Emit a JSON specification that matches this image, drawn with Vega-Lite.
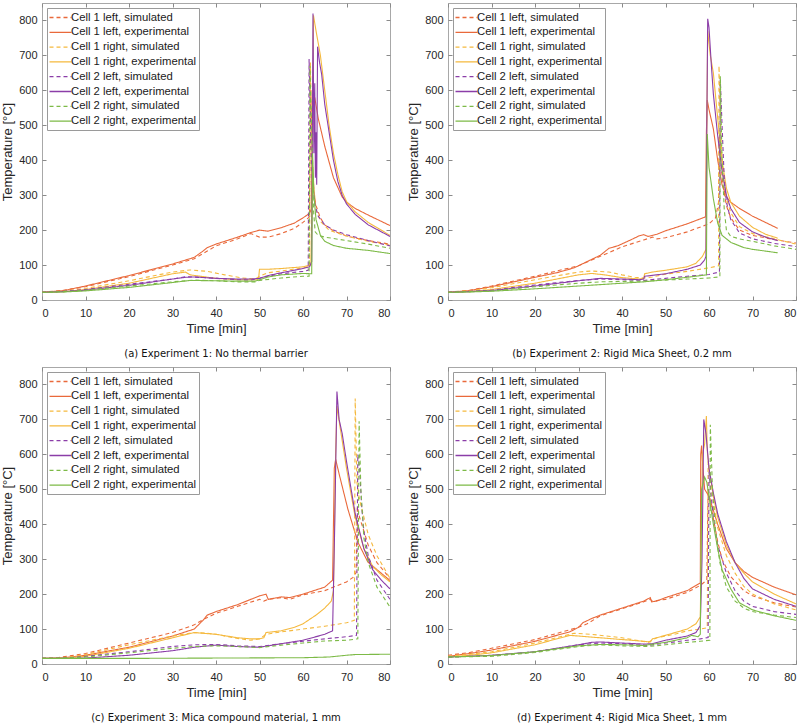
{
"$schema":"https://vega.github.io/schema/vega-lite/v6.json",
"background":"white",
"padding":{"left":1,"top":2,"right":6,"bottom":2},
"config":{
 "font":"Liberation Sans",
 "view":{"stroke":"#a8a8a8","strokeWidth":1},
 "axis":{"grid":false,"domain":false,"tickColor":"#8a8a8a","tickSize":-4,"labelFontSize":11,"labelColor":"#262626","labelPadding":9,"titleFontSize":13,"titleFontWeight":"normal","titleColor":"#262626","labelFont":"Liberation Sans","titleFont":"Liberation Sans"},
 "axisX":{"labelPadding":11},
 "legend":{"orient":"top-left","offset":5,"fillColor":"white","strokeColor":"#9a9a9a","padding":3,"labelFontSize":11.3,"labelColor":"#1a1a1a","labelFont":"Liberation Sans","symbolType":"M-2,0H2","symbolSize":121,"symbolOffset":4,"symbolStrokeWidth":1.3,"rowPadding":2.8,"labelOffset":4,"labelLimit":300,"title":null},
 "title":{"font":"DejaVu Sans","fontSize":10,"fontWeight":"normal","color":"#111111","orient":"bottom","anchor":"middle","offset":14}
},
"columns":2,
"spacing":{"row":6,"column":13},
"resolve":{"scale":{"color":"independent","strokeDash":"independent"},"legend":{"color":"independent","strokeDash":"independent"}},
"data":{"values":[
{"p":"a","s":1,"t":0,"T":22},{"p":"a","s":1,"t":5,"T":28},{"p":"a","s":1,"t":10,"T":38},{"p":"a","s":1,"t":20,"T":67},{"p":"a","s":1,"t":30,"T":100},{"p":"a","s":1,"t":35,"T":118},{"p":"a","s":1,"t":38,"T":140},{"p":"a","s":1,"t":40,"T":155},{"p":"a","s":1,"t":45,"T":175},{"p":"a","s":1,"t":48,"T":190},{"p":"a","s":1,"t":49,"T":185},{"p":"a","s":1,"t":50,"T":180},{"p":"a","s":1,"t":52,"T":180},{"p":"a","s":1,"t":55,"T":190},{"p":"a","s":1,"t":58,"T":205},{"p":"a","s":1,"t":60,"T":222},{"p":"a","s":1,"t":61.5,"T":238},{"p":"a","s":1,"t":61.8,"T":600},{"p":"a","s":1,"t":62.2,"T":380},{"p":"a","s":1,"t":62.6,"T":300},{"p":"a","s":1,"t":63,"T":270},{"p":"a","s":1,"t":64,"T":235},{"p":"a","s":1,"t":65,"T":215},{"p":"a","s":1,"t":67,"T":198},{"p":"a","s":1,"t":70,"T":183},{"p":"a","s":1,"t":75,"T":170},{"p":"a","s":1,"t":80,"T":160},
{"p":"a","s":2,"t":0,"T":22},{"p":"a","s":2,"t":5,"T":27},{"p":"a","s":2,"t":10,"T":40},{"p":"a","s":2,"t":20,"T":70},{"p":"a","s":2,"t":30,"T":103},{"p":"a","s":2,"t":35,"T":122},{"p":"a","s":2,"t":37,"T":140},{"p":"a","s":2,"t":38,"T":150},{"p":"a","s":2,"t":40,"T":160},{"p":"a","s":2,"t":45,"T":180},{"p":"a","s":2,"t":48,"T":193},{"p":"a","s":2,"t":50,"T":200},{"p":"a","s":2,"t":52,"T":197},{"p":"a","s":2,"t":55,"T":207},{"p":"a","s":2,"t":58,"T":220},{"p":"a","s":2,"t":60,"T":235},{"p":"a","s":2,"t":61.5,"T":248},{"p":"a","s":2,"t":61.9,"T":260},{"p":"a","s":2,"t":62.3,"T":560},{"p":"a","s":2,"t":62.7,"T":580},{"p":"a","s":2,"t":63.5,"T":520},{"p":"a","s":2,"t":65,"T":440},{"p":"a","s":2,"t":67,"T":350},{"p":"a","s":2,"t":69,"T":295},{"p":"a","s":2,"t":70,"T":280},{"p":"a","s":2,"t":72,"T":262},{"p":"a","s":2,"t":75,"T":243},{"p":"a","s":2,"t":80,"T":213},
{"p":"a","s":3,"t":0,"T":22},{"p":"a","s":3,"t":5,"T":25},{"p":"a","s":3,"t":10,"T":33},{"p":"a","s":3,"t":20,"T":55},{"p":"a","s":3,"t":30,"T":80},{"p":"a","s":3,"t":34,"T":86},{"p":"a","s":3,"t":38,"T":82},{"p":"a","s":3,"t":42,"T":72},{"p":"a","s":3,"t":46,"T":63},{"p":"a","s":3,"t":49,"T":60},{"p":"a","s":3,"t":50,"T":68},{"p":"a","s":3,"t":52,"T":78},{"p":"a","s":3,"t":55,"T":83},{"p":"a","s":3,"t":60,"T":92},{"p":"a","s":3,"t":61.5,"T":95},{"p":"a","s":3,"t":61.7,"T":680},{"p":"a","s":3,"t":62,"T":450},{"p":"a","s":3,"t":62.5,"T":320},{"p":"a","s":3,"t":63,"T":260},{"p":"a","s":3,"t":64,"T":225},{"p":"a","s":3,"t":66,"T":200},{"p":"a","s":3,"t":70,"T":183},{"p":"a","s":3,"t":75,"T":168},{"p":"a","s":3,"t":80,"T":157},
{"p":"a","s":4,"t":0,"T":22},{"p":"a","s":4,"t":5,"T":24},{"p":"a","s":4,"t":10,"T":30},{"p":"a","s":4,"t":20,"T":48},{"p":"a","s":4,"t":30,"T":75},{"p":"a","s":4,"t":33,"T":80},{"p":"a","s":4,"t":34,"T":72},{"p":"a","s":4,"t":40,"T":62},{"p":"a","s":4,"t":45,"T":58},{"p":"a","s":4,"t":49.5,"T":58},{"p":"a","s":4,"t":49.8,"T":62},{"p":"a","s":4,"t":50,"T":88},{"p":"a","s":4,"t":52,"T":88},{"p":"a","s":4,"t":55,"T":90},{"p":"a","s":4,"t":60,"T":95},{"p":"a","s":4,"t":61.8,"T":100},{"p":"a","s":4,"t":62.1,"T":300},{"p":"a","s":4,"t":62.4,"T":815},{"p":"a","s":4,"t":63,"T":770},{"p":"a","s":4,"t":64,"T":700},{"p":"a","s":4,"t":65,"T":600},{"p":"a","s":4,"t":66,"T":500},{"p":"a","s":4,"t":67,"T":420},{"p":"a","s":4,"t":68,"T":360},{"p":"a","s":4,"t":69,"T":310},{"p":"a","s":4,"t":70,"T":282},{"p":"a","s":4,"t":72,"T":252},{"p":"a","s":4,"t":75,"T":222},{"p":"a","s":4,"t":80,"T":185},
{"p":"a","s":5,"t":0,"T":22},{"p":"a","s":5,"t":5,"T":25},{"p":"a","s":5,"t":10,"T":30},{"p":"a","s":5,"t":20,"T":45},{"p":"a","s":5,"t":30,"T":60},{"p":"a","s":5,"t":33,"T":67},{"p":"a","s":5,"t":40,"T":62},{"p":"a","s":5,"t":45,"T":58},{"p":"a","s":5,"t":48,"T":57},{"p":"a","s":5,"t":50,"T":62},{"p":"a","s":5,"t":52,"T":68},{"p":"a","s":5,"t":55,"T":75},{"p":"a","s":5,"t":60,"T":82},{"p":"a","s":5,"t":61.2,"T":85},{"p":"a","s":5,"t":61.4,"T":690},{"p":"a","s":5,"t":61.8,"T":450},{"p":"a","s":5,"t":62.2,"T":330},{"p":"a","s":5,"t":62.8,"T":270},{"p":"a","s":5,"t":63.5,"T":240},{"p":"a","s":5,"t":65,"T":215},{"p":"a","s":5,"t":67,"T":200},{"p":"a","s":5,"t":70,"T":187},{"p":"a","s":5,"t":75,"T":170},{"p":"a","s":5,"t":80,"T":155},
{"p":"a","s":6,"t":0,"T":22},{"p":"a","s":6,"t":5,"T":24},{"p":"a","s":6,"t":10,"T":28},{"p":"a","s":6,"t":20,"T":42},{"p":"a","s":6,"t":30,"T":60},{"p":"a","s":6,"t":33,"T":65},{"p":"a","s":6,"t":35,"T":66},{"p":"a","s":6,"t":40,"T":62},{"p":"a","s":6,"t":45,"T":60},{"p":"a","s":6,"t":48,"T":60},{"p":"a","s":6,"t":50,"T":62},{"p":"a","s":6,"t":52,"T":70},{"p":"a","s":6,"t":55,"T":78},{"p":"a","s":6,"t":60,"T":90},{"p":"a","s":6,"t":61.5,"T":95},{"p":"a","s":6,"t":62,"T":110},{"p":"a","s":6,"t":62.3,"T":820},{"p":"a","s":6,"t":62.5,"T":420},{"p":"a","s":6,"t":62.7,"T":620},{"p":"a","s":6,"t":62.85,"T":350},{"p":"a","s":6,"t":63,"T":480},{"p":"a","s":6,"t":63.15,"T":330},{"p":"a","s":6,"t":63.35,"T":725},{"p":"a","s":6,"t":63.8,"T":680},{"p":"a","s":6,"t":64.3,"T":645},{"p":"a","s":6,"t":65,"T":560},{"p":"a","s":6,"t":66,"T":480},{"p":"a","s":6,"t":67,"T":400},{"p":"a","s":6,"t":68,"T":340},{"p":"a","s":6,"t":69,"T":300},{"p":"a","s":6,"t":70,"T":275},{"p":"a","s":6,"t":72,"T":245},{"p":"a","s":6,"t":75,"T":215},{"p":"a","s":6,"t":80,"T":182},
{"p":"a","s":7,"t":0,"T":22},{"p":"a","s":7,"t":5,"T":24},{"p":"a","s":7,"t":10,"T":28},{"p":"a","s":7,"t":20,"T":40},{"p":"a","s":7,"t":30,"T":52},{"p":"a","s":7,"t":35,"T":57},{"p":"a","s":7,"t":40,"T":55},{"p":"a","s":7,"t":45,"T":52},{"p":"a","s":7,"t":49,"T":52},{"p":"a","s":7,"t":50,"T":56},{"p":"a","s":7,"t":55,"T":63},{"p":"a","s":7,"t":60,"T":68},{"p":"a","s":7,"t":61.4,"T":68},{"p":"a","s":7,"t":61.6,"T":670},{"p":"a","s":7,"t":62,"T":480},{"p":"a","s":7,"t":62.4,"T":260},{"p":"a","s":7,"t":62.8,"T":195},{"p":"a","s":7,"t":63.5,"T":185},{"p":"a","s":7,"t":65,"T":180},{"p":"a","s":7,"t":70,"T":170},{"p":"a","s":7,"t":75,"T":160},{"p":"a","s":7,"t":80,"T":148},
{"p":"a","s":8,"t":0,"T":22},{"p":"a","s":8,"t":5,"T":23},{"p":"a","s":8,"t":10,"T":26},{"p":"a","s":8,"t":20,"T":36},{"p":"a","s":8,"t":30,"T":50},{"p":"a","s":8,"t":34,"T":56},{"p":"a","s":8,"t":40,"T":55},{"p":"a","s":8,"t":45,"T":54},{"p":"a","s":8,"t":49,"T":54},{"p":"a","s":8,"t":50,"T":58},{"p":"a","s":8,"t":52,"T":66},{"p":"a","s":8,"t":55,"T":72},{"p":"a","s":8,"t":60,"T":76},{"p":"a","s":8,"t":62,"T":75},{"p":"a","s":8,"t":62.2,"T":420},{"p":"a","s":8,"t":62.5,"T":300},{"p":"a","s":8,"t":63,"T":230},{"p":"a","s":8,"t":64,"T":185},{"p":"a","s":8,"t":65,"T":168},{"p":"a","s":8,"t":67,"T":156},{"p":"a","s":8,"t":70,"T":148},{"p":"a","s":8,"t":75,"T":142},{"p":"a","s":8,"t":80,"T":133},
{"p":"b","s":1,"t":0,"T":22},{"p":"b","s":1,"t":5,"T":28},{"p":"b","s":1,"t":10,"T":40},{"p":"b","s":1,"t":20,"T":68},{"p":"b","s":1,"t":30,"T":98},{"p":"b","s":1,"t":35,"T":125},{"p":"b","s":1,"t":40,"T":152},{"p":"b","s":1,"t":45,"T":172},{"p":"b","s":1,"t":47,"T":180},{"p":"b","s":1,"t":48,"T":175},{"p":"b","s":1,"t":50,"T":178},{"p":"b","s":1,"t":55,"T":195},{"p":"b","s":1,"t":60,"T":218},{"p":"b","s":1,"t":61.5,"T":235},{"p":"b","s":1,"t":62.2,"T":280},{"p":"b","s":1,"t":62.4,"T":470},{"p":"b","s":1,"t":62.8,"T":380},{"p":"b","s":1,"t":63.2,"T":330},{"p":"b","s":1,"t":64,"T":270},{"p":"b","s":1,"t":65,"T":235},{"p":"b","s":1,"t":67,"T":200},{"p":"b","s":1,"t":70,"T":185},{"p":"b","s":1,"t":75,"T":173},{"p":"b","s":1,"t":80,"T":163},
{"p":"b","s":2,"t":0,"T":22},{"p":"b","s":2,"t":5,"T":27},{"p":"b","s":2,"t":10,"T":38},{"p":"b","s":2,"t":20,"T":65},{"p":"b","s":2,"t":25,"T":78},{"p":"b","s":2,"t":29,"T":92},{"p":"b","s":2,"t":32,"T":110},{"p":"b","s":2,"t":35,"T":128},{"p":"b","s":2,"t":37,"T":148},{"p":"b","s":2,"t":39,"T":155},{"p":"b","s":2,"t":42,"T":172},{"p":"b","s":2,"t":44,"T":184},{"p":"b","s":2,"t":45,"T":187},{"p":"b","s":2,"t":46,"T":182},{"p":"b","s":2,"t":48,"T":188},{"p":"b","s":2,"t":50,"T":198},{"p":"b","s":2,"t":55,"T":218},{"p":"b","s":2,"t":59.2,"T":238},{"p":"b","s":2,"t":59.4,"T":480},{"p":"b","s":2,"t":59.6,"T":572},{"p":"b","s":2,"t":60,"T":545},{"p":"b","s":2,"t":61,"T":490},{"p":"b","s":2,"t":62,"T":400},{"p":"b","s":2,"t":63,"T":330},{"p":"b","s":2,"t":64,"T":295},{"p":"b","s":2,"t":65,"T":280},{"p":"b","s":2,"t":67,"T":262},{"p":"b","s":2,"t":70,"T":240},{"p":"b","s":2,"t":73,"T":222},{"p":"b","s":2,"t":75.8,"T":205},
{"p":"b","s":3,"t":0,"T":22},{"p":"b","s":3,"t":5,"T":26},{"p":"b","s":3,"t":10,"T":35},{"p":"b","s":3,"t":20,"T":58},{"p":"b","s":3,"t":30,"T":80},{"p":"b","s":3,"t":33,"T":83},{"p":"b","s":3,"t":37,"T":80},{"p":"b","s":3,"t":40,"T":72},{"p":"b","s":3,"t":43,"T":65},{"p":"b","s":3,"t":45,"T":63},{"p":"b","s":3,"t":47,"T":66},{"p":"b","s":3,"t":50,"T":74},{"p":"b","s":3,"t":55,"T":82},{"p":"b","s":3,"t":60,"T":92},{"p":"b","s":3,"t":62.2,"T":98},{"p":"b","s":3,"t":62.3,"T":670},{"p":"b","s":3,"t":62.7,"T":480},{"p":"b","s":3,"t":63.2,"T":360},{"p":"b","s":3,"t":64,"T":290},{"p":"b","s":3,"t":65,"T":250},{"p":"b","s":3,"t":67,"T":210},{"p":"b","s":3,"t":70,"T":190},{"p":"b","s":3,"t":75,"T":175},{"p":"b","s":3,"t":80,"T":160},
{"p":"b","s":4,"t":0,"T":22},{"p":"b","s":4,"t":5,"T":24},{"p":"b","s":4,"t":10,"T":30},{"p":"b","s":4,"t":20,"T":48},{"p":"b","s":4,"t":30,"T":72},{"p":"b","s":4,"t":33,"T":76},{"p":"b","s":4,"t":36,"T":72},{"p":"b","s":4,"t":40,"T":64},{"p":"b","s":4,"t":44,"T":60},{"p":"b","s":4,"t":45,"T":62},{"p":"b","s":4,"t":45.2,"T":75},{"p":"b","s":4,"t":47,"T":80},{"p":"b","s":4,"t":50,"T":85},{"p":"b","s":4,"t":55,"T":95},{"p":"b","s":4,"t":57,"T":105},{"p":"b","s":4,"t":58.5,"T":125},{"p":"b","s":4,"t":59.3,"T":145},{"p":"b","s":4,"t":59.5,"T":500},{"p":"b","s":4,"t":59.7,"T":770},{"p":"b","s":4,"t":60.3,"T":700},{"p":"b","s":4,"t":61,"T":650},{"p":"b","s":4,"t":62,"T":520},{"p":"b","s":4,"t":63,"T":400},{"p":"b","s":4,"t":64,"T":320},{"p":"b","s":4,"t":65,"T":280},{"p":"b","s":4,"t":67,"T":240},{"p":"b","s":4,"t":70,"T":208},{"p":"b","s":4,"t":73,"T":188},{"p":"b","s":4,"t":75.8,"T":177},
{"p":"b","s":5,"t":0,"T":22},{"p":"b","s":5,"t":5,"T":25},{"p":"b","s":5,"t":10,"T":28},{"p":"b","s":5,"t":20,"T":43},{"p":"b","s":5,"t":30,"T":56},{"p":"b","s":5,"t":35,"T":60},{"p":"b","s":5,"t":40,"T":58},{"p":"b","s":5,"t":45,"T":56},{"p":"b","s":5,"t":50,"T":62},{"p":"b","s":5,"t":55,"T":68},{"p":"b","s":5,"t":60,"T":73},{"p":"b","s":5,"t":62.4,"T":80},{"p":"b","s":5,"t":62.6,"T":630},{"p":"b","s":5,"t":63,"T":500},{"p":"b","s":5,"t":63.5,"T":350},{"p":"b","s":5,"t":64,"T":280},{"p":"b","s":5,"t":65,"T":230},{"p":"b","s":5,"t":67,"T":192},{"p":"b","s":5,"t":70,"T":175},{"p":"b","s":5,"t":75,"T":162},{"p":"b","s":5,"t":80,"T":153},
{"p":"b","s":6,"t":0,"T":22},{"p":"b","s":6,"t":5,"T":24},{"p":"b","s":6,"t":10,"T":27},{"p":"b","s":6,"t":20,"T":40},{"p":"b","s":6,"t":30,"T":55},{"p":"b","s":6,"t":35,"T":62},{"p":"b","s":6,"t":40,"T":60},{"p":"b","s":6,"t":44,"T":58},{"p":"b","s":6,"t":45,"T":60},{"p":"b","s":6,"t":45.2,"T":68},{"p":"b","s":6,"t":50,"T":75},{"p":"b","s":6,"t":55,"T":88},{"p":"b","s":6,"t":58,"T":100},{"p":"b","s":6,"t":59,"T":115},{"p":"b","s":6,"t":59.3,"T":125},{"p":"b","s":6,"t":59.5,"T":500},{"p":"b","s":6,"t":59.7,"T":805},{"p":"b","s":6,"t":60,"T":780},{"p":"b","s":6,"t":60.5,"T":680},{"p":"b","s":6,"t":61,"T":590},{"p":"b","s":6,"t":62,"T":470},{"p":"b","s":6,"t":63,"T":370},{"p":"b","s":6,"t":64,"T":300},{"p":"b","s":6,"t":65,"T":262},{"p":"b","s":6,"t":67,"T":222},{"p":"b","s":6,"t":70,"T":195},{"p":"b","s":6,"t":73,"T":180},{"p":"b","s":6,"t":75.8,"T":170},
{"p":"b","s":7,"t":0,"T":22},{"p":"b","s":7,"t":5,"T":24},{"p":"b","s":7,"t":10,"T":26},{"p":"b","s":7,"t":20,"T":38},{"p":"b","s":7,"t":30,"T":48},{"p":"b","s":7,"t":35,"T":52},{"p":"b","s":7,"t":40,"T":53},{"p":"b","s":7,"t":45,"T":54},{"p":"b","s":7,"t":50,"T":57},{"p":"b","s":7,"t":55,"T":60},{"p":"b","s":7,"t":60,"T":63},{"p":"b","s":7,"t":62.5,"T":66},{"p":"b","s":7,"t":62.6,"T":640},{"p":"b","s":7,"t":63,"T":400},{"p":"b","s":7,"t":63.5,"T":260},{"p":"b","s":7,"t":64,"T":200},{"p":"b","s":7,"t":65,"T":182},{"p":"b","s":7,"t":67,"T":175},{"p":"b","s":7,"t":70,"T":168},{"p":"b","s":7,"t":75,"T":155},{"p":"b","s":7,"t":80,"T":145},
{"p":"b","s":8,"t":0,"T":22},{"p":"b","s":8,"t":5,"T":23},{"p":"b","s":8,"t":10,"T":25},{"p":"b","s":8,"t":20,"T":32},{"p":"b","s":8,"t":30,"T":40},{"p":"b","s":8,"t":40,"T":48},{"p":"b","s":8,"t":45,"T":52},{"p":"b","s":8,"t":50,"T":58},{"p":"b","s":8,"t":55,"T":65},{"p":"b","s":8,"t":59.4,"T":72},{"p":"b","s":8,"t":59.6,"T":475},{"p":"b","s":8,"t":60,"T":380},{"p":"b","s":8,"t":61,"T":290},{"p":"b","s":8,"t":62,"T":220},{"p":"b","s":8,"t":63,"T":185},{"p":"b","s":8,"t":65,"T":165},{"p":"b","s":8,"t":68,"T":150},{"p":"b","s":8,"t":70,"T":145},{"p":"b","s":8,"t":73,"T":140},{"p":"b","s":8,"t":75.8,"T":135},
{"p":"c","s":1,"t":0,"T":16},{"p":"c","s":1,"t":3,"T":17},{"p":"c","s":1,"t":10,"T":30},{"p":"c","s":1,"t":20,"T":60},{"p":"c","s":1,"t":30,"T":90},{"p":"c","s":1,"t":35,"T":112},{"p":"c","s":1,"t":37,"T":127},{"p":"c","s":1,"t":40,"T":145},{"p":"c","s":1,"t":45,"T":165},{"p":"c","s":1,"t":50,"T":185},{"p":"c","s":1,"t":51,"T":180},{"p":"c","s":1,"t":52,"T":185},{"p":"c","s":1,"t":55,"T":190},{"p":"c","s":1,"t":57,"T":185},{"p":"c","s":1,"t":60,"T":198},{"p":"c","s":1,"t":65,"T":210},{"p":"c","s":1,"t":70,"T":235},{"p":"c","s":1,"t":71.5,"T":248},{"p":"c","s":1,"t":72.2,"T":262},{"p":"c","s":1,"t":72.5,"T":450},{"p":"c","s":1,"t":73,"T":420},{"p":"c","s":1,"t":74,"T":380},{"p":"c","s":1,"t":75,"T":340},{"p":"c","s":1,"t":77,"T":290},{"p":"c","s":1,"t":80,"T":245},
{"p":"c","s":2,"t":0,"T":16},{"p":"c","s":2,"t":5,"T":18},{"p":"c","s":2,"t":10,"T":25},{"p":"c","s":2,"t":20,"T":48},{"p":"c","s":2,"t":30,"T":80},{"p":"c","s":2,"t":35,"T":100},{"p":"c","s":2,"t":37,"T":125},{"p":"c","s":2,"t":38,"T":140},{"p":"c","s":2,"t":40,"T":150},{"p":"c","s":2,"t":45,"T":170},{"p":"c","s":2,"t":50,"T":195},{"p":"c","s":2,"t":51.5,"T":200},{"p":"c","s":2,"t":52,"T":185},{"p":"c","s":2,"t":55,"T":192},{"p":"c","s":2,"t":57,"T":190},{"p":"c","s":2,"t":60,"T":200},{"p":"c","s":2,"t":65,"T":220},{"p":"c","s":2,"t":66.8,"T":240},{"p":"c","s":2,"t":67.2,"T":560},{"p":"c","s":2,"t":67.5,"T":586},{"p":"c","s":2,"t":68.4,"T":539},{"p":"c","s":2,"t":70.3,"T":444},{"p":"c","s":2,"t":72.6,"T":349},{"p":"c","s":2,"t":74.9,"T":292},{"p":"c","s":2,"t":77.2,"T":268},{"p":"c","s":2,"t":80,"T":239},
{"p":"c","s":3,"t":0,"T":16},{"p":"c","s":3,"t":5,"T":18},{"p":"c","s":3,"t":10,"T":27},{"p":"c","s":3,"t":20,"T":55},{"p":"c","s":3,"t":30,"T":80},{"p":"c","s":3,"t":35,"T":90},{"p":"c","s":3,"t":38,"T":88},{"p":"c","s":3,"t":40,"T":85},{"p":"c","s":3,"t":45,"T":73},{"p":"c","s":3,"t":48,"T":68},{"p":"c","s":3,"t":50,"T":72},{"p":"c","s":3,"t":51.5,"T":85},{"p":"c","s":3,"t":55,"T":92},{"p":"c","s":3,"t":60,"T":100},{"p":"c","s":3,"t":65,"T":108},{"p":"c","s":3,"t":70,"T":118},{"p":"c","s":3,"t":71.8,"T":125},{"p":"c","s":3,"t":72,"T":760},{"p":"c","s":3,"t":72.4,"T":520},{"p":"c","s":3,"t":73,"T":470},{"p":"c","s":3,"t":74,"T":420},{"p":"c","s":3,"t":75,"T":370},{"p":"c","s":3,"t":77,"T":310},{"p":"c","s":3,"t":80,"T":245},
{"p":"c","s":4,"t":0,"T":16},{"p":"c","s":4,"t":5,"T":17},{"p":"c","s":4,"t":10,"T":22},{"p":"c","s":4,"t":20,"T":45},{"p":"c","s":4,"t":30,"T":75},{"p":"c","s":4,"t":35,"T":90},{"p":"c","s":4,"t":37,"T":88},{"p":"c","s":4,"t":40,"T":85},{"p":"c","s":4,"t":45,"T":75},{"p":"c","s":4,"t":48,"T":72},{"p":"c","s":4,"t":50,"T":72},{"p":"c","s":4,"t":51,"T":75},{"p":"c","s":4,"t":51.5,"T":90},{"p":"c","s":4,"t":55,"T":95},{"p":"c","s":4,"t":58,"T":105},{"p":"c","s":4,"t":60,"T":115},{"p":"c","s":4,"t":63,"T":140},{"p":"c","s":4,"t":65,"T":160},{"p":"c","s":4,"t":66.5,"T":180},{"p":"c","s":4,"t":67,"T":210},{"p":"c","s":4,"t":67.5,"T":600},{"p":"c","s":4,"t":67.8,"T":738},{"p":"c","s":4,"t":68.5,"T":680},{"p":"c","s":4,"t":70,"T":560},{"p":"c","s":4,"t":72,"T":420},{"p":"c","s":4,"t":74,"T":330},{"p":"c","s":4,"t":76,"T":280},{"p":"c","s":4,"t":78,"T":255},{"p":"c","s":4,"t":80,"T":235},
{"p":"c","s":5,"t":0,"T":16},{"p":"c","s":5,"t":5,"T":17},{"p":"c","s":5,"t":10,"T":22},{"p":"c","s":5,"t":20,"T":35},{"p":"c","s":5,"t":30,"T":50},{"p":"c","s":5,"t":35,"T":55},{"p":"c","s":5,"t":40,"T":56},{"p":"c","s":5,"t":45,"T":52},{"p":"c","s":5,"t":50,"T":50},{"p":"c","s":5,"t":55,"T":58},{"p":"c","s":5,"t":60,"T":65},{"p":"c","s":5,"t":65,"T":72},{"p":"c","s":5,"t":70,"T":78},{"p":"c","s":5,"t":72.3,"T":82},{"p":"c","s":5,"t":72.6,"T":600},{"p":"c","s":5,"t":73,"T":560},{"p":"c","s":5,"t":73.5,"T":450},{"p":"c","s":5,"t":74,"T":380},{"p":"c","s":5,"t":75,"T":310},{"p":"c","s":5,"t":77,"T":240},{"p":"c","s":5,"t":80,"T":185},
{"p":"c","s":6,"t":0,"T":16},{"p":"c","s":6,"t":5,"T":16},{"p":"c","s":6,"t":10,"T":17},{"p":"c","s":6,"t":20,"T":25},{"p":"c","s":6,"t":30,"T":38},{"p":"c","s":6,"t":35,"T":48},{"p":"c","s":6,"t":40,"T":54},{"p":"c","s":6,"t":45,"T":50},{"p":"c","s":6,"t":50,"T":48},{"p":"c","s":6,"t":52,"T":52},{"p":"c","s":6,"t":55,"T":58},{"p":"c","s":6,"t":60,"T":68},{"p":"c","s":6,"t":65,"T":85},{"p":"c","s":6,"t":66.8,"T":95},{"p":"c","s":6,"t":67.3,"T":400},{"p":"c","s":6,"t":67.8,"T":780},{"p":"c","s":6,"t":68.3,"T":700},{"p":"c","s":6,"t":69,"T":660},{"p":"c","s":6,"t":70,"T":580},{"p":"c","s":6,"t":72,"T":430},{"p":"c","s":6,"t":74,"T":330},{"p":"c","s":6,"t":76,"T":270},{"p":"c","s":6,"t":78,"T":240},{"p":"c","s":6,"t":80,"T":215},
{"p":"c","s":7,"t":0,"T":16},{"p":"c","s":7,"t":5,"T":17},{"p":"c","s":7,"t":10,"T":20},{"p":"c","s":7,"t":20,"T":32},{"p":"c","s":7,"t":30,"T":45},{"p":"c","s":7,"t":35,"T":50},{"p":"c","s":7,"t":40,"T":52},{"p":"c","s":7,"t":45,"T":50},{"p":"c","s":7,"t":50,"T":47},{"p":"c","s":7,"t":55,"T":54},{"p":"c","s":7,"t":60,"T":60},{"p":"c","s":7,"t":65,"T":66},{"p":"c","s":7,"t":70,"T":68},{"p":"c","s":7,"t":72.6,"T":72},{"p":"c","s":7,"t":72.9,"T":695},{"p":"c","s":7,"t":73.3,"T":500},{"p":"c","s":7,"t":74,"T":360},{"p":"c","s":7,"t":75,"T":290},{"p":"c","s":7,"t":77,"T":220},{"p":"c","s":7,"t":80,"T":163},
{"p":"c","s":8,"t":0,"T":16},{"p":"c","s":8,"t":20,"T":16},{"p":"c","s":8,"t":40,"T":17},{"p":"c","s":8,"t":60,"T":18},{"p":"c","s":8,"t":66,"T":20},{"p":"c","s":8,"t":70,"T":25},{"p":"c","s":8,"t":72,"T":27},{"p":"c","s":8,"t":80,"T":28},
{"p":"d","s":1,"t":0,"T":25},{"p":"d","s":1,"t":5,"T":33},{"p":"d","s":1,"t":10,"T":45},{"p":"d","s":1,"t":20,"T":70},{"p":"d","s":1,"t":30,"T":105},{"p":"d","s":1,"t":32,"T":115},{"p":"d","s":1,"t":35,"T":138},{"p":"d","s":1,"t":40,"T":158},{"p":"d","s":1,"t":45,"T":178},{"p":"d","s":1,"t":46.5,"T":185},{"p":"d","s":1,"t":47,"T":180},{"p":"d","s":1,"t":50,"T":185},{"p":"d","s":1,"t":55,"T":205},{"p":"d","s":1,"t":58,"T":225},{"p":"d","s":1,"t":59.5,"T":240},{"p":"d","s":1,"t":59.8,"T":500},{"p":"d","s":1,"t":60.5,"T":450},{"p":"d","s":1,"t":62,"T":350},{"p":"d","s":1,"t":63,"T":300},{"p":"d","s":1,"t":65,"T":250},{"p":"d","s":1,"t":68,"T":210},{"p":"d","s":1,"t":70,"T":195},{"p":"d","s":1,"t":75,"T":175},{"p":"d","s":1,"t":80,"T":163},
{"p":"d","s":2,"t":0,"T":22},{"p":"d","s":2,"t":5,"T":30},{"p":"d","s":2,"t":10,"T":40},{"p":"d","s":2,"t":20,"T":65},{"p":"d","s":2,"t":28,"T":92},{"p":"d","s":2,"t":30,"T":105},{"p":"d","s":2,"t":31,"T":118},{"p":"d","s":2,"t":33,"T":130},{"p":"d","s":2,"t":35,"T":140},{"p":"d","s":2,"t":40,"T":160},{"p":"d","s":2,"t":45,"T":180},{"p":"d","s":2,"t":46.5,"T":190},{"p":"d","s":2,"t":46.8,"T":178},{"p":"d","s":2,"t":48,"T":180},{"p":"d","s":2,"t":50,"T":190},{"p":"d","s":2,"t":55,"T":210},{"p":"d","s":2,"t":58,"T":232},{"p":"d","s":2,"t":58.1,"T":600},{"p":"d","s":2,"t":58.3,"T":625},{"p":"d","s":2,"t":58.6,"T":560},{"p":"d","s":2,"t":59,"T":500},{"p":"d","s":2,"t":60,"T":480},{"p":"d","s":2,"t":61,"T":440},{"p":"d","s":2,"t":62,"T":400},{"p":"d","s":2,"t":64,"T":330},{"p":"d","s":2,"t":66,"T":290},{"p":"d","s":2,"t":68,"T":265},{"p":"d","s":2,"t":70,"T":248},{"p":"d","s":2,"t":75,"T":220},{"p":"d","s":2,"t":80,"T":198},
{"p":"d","s":3,"t":0,"T":22},{"p":"d","s":3,"t":5,"T":28},{"p":"d","s":3,"t":10,"T":35},{"p":"d","s":3,"t":20,"T":60},{"p":"d","s":3,"t":29,"T":88},{"p":"d","s":3,"t":33,"T":85},{"p":"d","s":3,"t":40,"T":75},{"p":"d","s":3,"t":46,"T":62},{"p":"d","s":3,"t":48,"T":75},{"p":"d","s":3,"t":52,"T":85},{"p":"d","s":3,"t":55,"T":95},{"p":"d","s":3,"t":58,"T":100},{"p":"d","s":3,"t":59.6,"T":104},{"p":"d","s":3,"t":59.8,"T":580},{"p":"d","s":3,"t":60.5,"T":500},{"p":"d","s":3,"t":62,"T":390},{"p":"d","s":3,"t":64,"T":310},{"p":"d","s":3,"t":66,"T":260},{"p":"d","s":3,"t":68,"T":222},{"p":"d","s":3,"t":70,"T":200},{"p":"d","s":3,"t":75,"T":172},{"p":"d","s":3,"t":80,"T":155},
{"p":"d","s":4,"t":0,"T":20},{"p":"d","s":4,"t":5,"T":25},{"p":"d","s":4,"t":10,"T":32},{"p":"d","s":4,"t":20,"T":55},{"p":"d","s":4,"t":28,"T":82},{"p":"d","s":4,"t":30,"T":80},{"p":"d","s":4,"t":35,"T":75},{"p":"d","s":4,"t":40,"T":70},{"p":"d","s":4,"t":45,"T":65},{"p":"d","s":4,"t":46.5,"T":63},{"p":"d","s":4,"t":47,"T":72},{"p":"d","s":4,"t":50,"T":82},{"p":"d","s":4,"t":55,"T":100},{"p":"d","s":4,"t":57,"T":115},{"p":"d","s":4,"t":58,"T":135},{"p":"d","s":4,"t":58.5,"T":600},{"p":"d","s":4,"t":59,"T":630},{"p":"d","s":4,"t":59.4,"T":710},{"p":"d","s":4,"t":59.6,"T":610},{"p":"d","s":4,"t":60,"T":560},{"p":"d","s":4,"t":61,"T":480},{"p":"d","s":4,"t":62,"T":420},{"p":"d","s":4,"t":64,"T":340},{"p":"d","s":4,"t":66,"T":290},{"p":"d","s":4,"t":68,"T":260},{"p":"d","s":4,"t":70,"T":235},{"p":"d","s":4,"t":75,"T":200},{"p":"d","s":4,"t":80,"T":172},
{"p":"d","s":5,"t":0,"T":20},{"p":"d","s":5,"t":5,"T":22},{"p":"d","s":5,"t":10,"T":24},{"p":"d","s":5,"t":20,"T":35},{"p":"d","s":5,"t":30,"T":55},{"p":"d","s":5,"t":35,"T":60},{"p":"d","s":5,"t":40,"T":58},{"p":"d","s":5,"t":46,"T":53},{"p":"d","s":5,"t":50,"T":60},{"p":"d","s":5,"t":55,"T":68},{"p":"d","s":5,"t":58,"T":72},{"p":"d","s":5,"t":59.8,"T":76},{"p":"d","s":5,"t":60,"T":550},{"p":"d","s":5,"t":60.5,"T":480},{"p":"d","s":5,"t":61,"T":420},{"p":"d","s":5,"t":62,"T":340},{"p":"d","s":5,"t":64,"T":260},{"p":"d","s":5,"t":66,"T":210},{"p":"d","s":5,"t":68,"T":180},{"p":"d","s":5,"t":70,"T":165},{"p":"d","s":5,"t":75,"T":150},{"p":"d","s":5,"t":80,"T":142},
{"p":"d","s":6,"t":0,"T":20},{"p":"d","s":6,"t":5,"T":22},{"p":"d","s":6,"t":10,"T":25},{"p":"d","s":6,"t":20,"T":35},{"p":"d","s":6,"t":30,"T":55},{"p":"d","s":6,"t":33,"T":62},{"p":"d","s":6,"t":35,"T":63},{"p":"d","s":6,"t":40,"T":60},{"p":"d","s":6,"t":45,"T":57},{"p":"d","s":6,"t":47,"T":58},{"p":"d","s":6,"t":50,"T":68},{"p":"d","s":6,"t":55,"T":80},{"p":"d","s":6,"t":57,"T":90},{"p":"d","s":6,"t":58,"T":110},{"p":"d","s":6,"t":58.4,"T":300},{"p":"d","s":6,"t":58.8,"T":700},{"p":"d","s":6,"t":59.3,"T":660},{"p":"d","s":6,"t":60,"T":560},{"p":"d","s":6,"t":61,"T":490},{"p":"d","s":6,"t":62,"T":430},{"p":"d","s":6,"t":64,"T":350},{"p":"d","s":6,"t":66,"T":290},{"p":"d","s":6,"t":68,"T":245},{"p":"d","s":6,"t":70,"T":215},{"p":"d","s":6,"t":75,"T":185},{"p":"d","s":6,"t":80,"T":165},
{"p":"d","s":7,"t":0,"T":20},{"p":"d","s":7,"t":5,"T":21},{"p":"d","s":7,"t":10,"T":22},{"p":"d","s":7,"t":20,"T":33},{"p":"d","s":7,"t":30,"T":50},{"p":"d","s":7,"t":35,"T":55},{"p":"d","s":7,"t":40,"T":52},{"p":"d","s":7,"t":46,"T":50},{"p":"d","s":7,"t":50,"T":55},{"p":"d","s":7,"t":55,"T":62},{"p":"d","s":7,"t":58,"T":65},{"p":"d","s":7,"t":60.2,"T":68},{"p":"d","s":7,"t":60.3,"T":685},{"p":"d","s":7,"t":60.8,"T":500},{"p":"d","s":7,"t":61.5,"T":380},{"p":"d","s":7,"t":62.5,"T":290},{"p":"d","s":7,"t":64,"T":220},{"p":"d","s":7,"t":66,"T":180},{"p":"d","s":7,"t":68,"T":160},{"p":"d","s":7,"t":70,"T":150},{"p":"d","s":7,"t":75,"T":140},{"p":"d","s":7,"t":80,"T":133},
{"p":"d","s":8,"t":0,"T":20},{"p":"d","s":8,"t":5,"T":22},{"p":"d","s":8,"t":10,"T":24},{"p":"d","s":8,"t":20,"T":35},{"p":"d","s":8,"t":30,"T":52},{"p":"d","s":8,"t":35,"T":56},{"p":"d","s":8,"t":40,"T":55},{"p":"d","s":8,"t":45,"T":53},{"p":"d","s":8,"t":50,"T":62},{"p":"d","s":8,"t":55,"T":75},{"p":"d","s":8,"t":56,"T":82},{"p":"d","s":8,"t":57.5,"T":78},{"p":"d","s":8,"t":58,"T":85},{"p":"d","s":8,"t":58.3,"T":500},{"p":"d","s":8,"t":59,"T":535},{"p":"d","s":8,"t":59.5,"T":520},{"p":"d","s":8,"t":60,"T":480},{"p":"d","s":8,"t":61,"T":400},{"p":"d","s":8,"t":62,"T":330},{"p":"d","s":8,"t":63,"T":270},{"p":"d","s":8,"t":65,"T":215},{"p":"d","s":8,"t":67,"T":175},{"p":"d","s":8,"t":70,"T":155},{"p":"d","s":8,"t":75,"T":138},{"p":"d","s":8,"t":80,"T":125}
]},
"concat":[
{"width":348,"height":297,"title":{"text":"(a) Experiment 1: No thermal barrier"},"transform":[{"filter":"datum.p=='a'"}],
 "layer":[
  {"mark":{"type":"line","strokeWidth":1.1,"clip":true},
   "encoding":{
    "x":{"field":"t","type":"quantitative","scale":{"domain":[0,80],"nice":false,"zero":false},"axis":{"values":[0,10,20,30,40,50,60,70,80],"title":"Time [min]"}},
    "y":{"field":"T","type":"quantitative","scale":{"domain":[0,850],"nice":false},"axis":{"values":[0,100,200,300,400,500,600,700,800],"title":"Temperature [°C]"}},
    "color":{"field":"s","type":"nominal","scale":{"domain":[1,2,3,4,5,6,7,8],"range":["#E9693B","#E9693B","#F5B93E","#F5B93E","#8B3DA8","#8B3DA8","#7DBA47","#7DBA47"]},"legend":{"labelExpr":"['Cell 1 left, simulated','Cell 1 left, experimental','Cell 1 right, simulated','Cell 1 right, experimental','Cell 2 left, simulated','Cell 2 left, experimental','Cell 2 right, simulated','Cell 2 right, experimental'][datum.value-1]"}},
    "strokeDash":{"field":"s","type":"nominal","scale":{"domain":[1,2,3,4,5,6,7,8],"range":[[4,3],[1,0],[4,3],[1,0],[4,3],[1,0],[4,3],[1,0]]},"legend":{"labelExpr":"['Cell 1 left, simulated','Cell 1 left, experimental','Cell 1 right, simulated','Cell 1 right, experimental','Cell 2 left, simulated','Cell 2 left, experimental','Cell 2 right, simulated','Cell 2 right, experimental'][datum.value-1]"}}
   }},
  {"mark":{"type":"point","opacity":0},
   "encoding":{
    "x":{"field":"t","type":"quantitative","scale":{"domain":[0,80],"nice":false,"zero":false},"axis":{"orient":"top","values":[0,10,20,30,40,50,60,70,80],"labels":false,"title":null}},
    "y":{"field":"T","type":"quantitative","scale":{"domain":[0,850],"nice":false},"axis":{"orient":"right","values":[0,100,200,300,400,500,600,700,800],"labels":false,"title":null}}
   }}
 ],
 "resolve":{"axis":{"x":"independent","y":"independent"}}
},
{"width":348,"height":297,"title":{"text":"(b) Experiment 2: Rigid Mica Sheet, 0.2 mm"},"transform":[{"filter":"datum.p=='b'"}],
 "layer":[
  {"mark":{"type":"line","strokeWidth":1.1,"clip":true},
   "encoding":{
    "x":{"field":"t","type":"quantitative","scale":{"domain":[0,80],"nice":false,"zero":false},"axis":{"values":[0,10,20,30,40,50,60,70,80],"title":"Time [min]"}},
    "y":{"field":"T","type":"quantitative","scale":{"domain":[0,850],"nice":false},"axis":{"values":[0,100,200,300,400,500,600,700,800],"title":"Temperature [°C]"}},
    "color":{"field":"s","type":"nominal","scale":{"domain":[1,2,3,4,5,6,7,8],"range":["#E9693B","#E9693B","#F5B93E","#F5B93E","#8B3DA8","#8B3DA8","#7DBA47","#7DBA47"]},"legend":{"labelExpr":"['Cell 1 left, simulated','Cell 1 left, experimental','Cell 1 right, simulated','Cell 1 right, experimental','Cell 2 left, simulated','Cell 2 left, experimental','Cell 2 right, simulated','Cell 2 right, experimental'][datum.value-1]"}},
    "strokeDash":{"field":"s","type":"nominal","scale":{"domain":[1,2,3,4,5,6,7,8],"range":[[4,3],[1,0],[4,3],[1,0],[4,3],[1,0],[4,3],[1,0]]},"legend":{"labelExpr":"['Cell 1 left, simulated','Cell 1 left, experimental','Cell 1 right, simulated','Cell 1 right, experimental','Cell 2 left, simulated','Cell 2 left, experimental','Cell 2 right, simulated','Cell 2 right, experimental'][datum.value-1]"}}
   }},
  {"mark":{"type":"point","opacity":0},
   "encoding":{
    "x":{"field":"t","type":"quantitative","scale":{"domain":[0,80],"nice":false,"zero":false},"axis":{"orient":"top","values":[0,10,20,30,40,50,60,70,80],"labels":false,"title":null}},
    "y":{"field":"T","type":"quantitative","scale":{"domain":[0,850],"nice":false},"axis":{"orient":"right","values":[0,100,200,300,400,500,600,700,800],"labels":false,"title":null}}
   }}
 ],
 "resolve":{"axis":{"x":"independent","y":"independent"}}
},
{"width":348,"height":297,"title":{"text":"(c) Experiment 3: Mica compound material, 1 mm"},"transform":[{"filter":"datum.p=='c'"}],
 "layer":[
  {"mark":{"type":"line","strokeWidth":1.1,"clip":true},
   "encoding":{
    "x":{"field":"t","type":"quantitative","scale":{"domain":[0,80],"nice":false,"zero":false},"axis":{"values":[0,10,20,30,40,50,60,70,80],"title":"Time [min]"}},
    "y":{"field":"T","type":"quantitative","scale":{"domain":[0,850],"nice":false},"axis":{"values":[0,100,200,300,400,500,600,700,800],"title":"Temperature [°C]"}},
    "color":{"field":"s","type":"nominal","scale":{"domain":[1,2,3,4,5,6,7,8],"range":["#E9693B","#E9693B","#F5B93E","#F5B93E","#8B3DA8","#8B3DA8","#7DBA47","#7DBA47"]},"legend":{"labelExpr":"['Cell 1 left, simulated','Cell 1 left, experimental','Cell 1 right, simulated','Cell 1 right, experimental','Cell 2 left, simulated','Cell 2 left, experimental','Cell 2 right, simulated','Cell 2 right, experimental'][datum.value-1]"}},
    "strokeDash":{"field":"s","type":"nominal","scale":{"domain":[1,2,3,4,5,6,7,8],"range":[[4,3],[1,0],[4,3],[1,0],[4,3],[1,0],[4,3],[1,0]]},"legend":{"labelExpr":"['Cell 1 left, simulated','Cell 1 left, experimental','Cell 1 right, simulated','Cell 1 right, experimental','Cell 2 left, simulated','Cell 2 left, experimental','Cell 2 right, simulated','Cell 2 right, experimental'][datum.value-1]"}}
   }},
  {"mark":{"type":"point","opacity":0},
   "encoding":{
    "x":{"field":"t","type":"quantitative","scale":{"domain":[0,80],"nice":false,"zero":false},"axis":{"orient":"top","values":[0,10,20,30,40,50,60,70,80],"labels":false,"title":null}},
    "y":{"field":"T","type":"quantitative","scale":{"domain":[0,850],"nice":false},"axis":{"orient":"right","values":[0,100,200,300,400,500,600,700,800],"labels":false,"title":null}}
   }}
 ],
 "resolve":{"axis":{"x":"independent","y":"independent"}}
},
{"width":348,"height":297,"title":{"text":"(d) Experiment 4: Rigid Mica Sheet, 1 mm"},"transform":[{"filter":"datum.p=='d'"}],
 "layer":[
  {"mark":{"type":"line","strokeWidth":1.1,"clip":true},
   "encoding":{
    "x":{"field":"t","type":"quantitative","scale":{"domain":[0,80],"nice":false,"zero":false},"axis":{"values":[0,10,20,30,40,50,60,70,80],"title":"Time [min]"}},
    "y":{"field":"T","type":"quantitative","scale":{"domain":[0,850],"nice":false},"axis":{"values":[0,100,200,300,400,500,600,700,800],"title":"Temperature [°C]"}},
    "color":{"field":"s","type":"nominal","scale":{"domain":[1,2,3,4,5,6,7,8],"range":["#E9693B","#E9693B","#F5B93E","#F5B93E","#8B3DA8","#8B3DA8","#7DBA47","#7DBA47"]},"legend":{"labelExpr":"['Cell 1 left, simulated','Cell 1 left, experimental','Cell 1 right, simulated','Cell 1 right, experimental','Cell 2 left, simulated','Cell 2 left, experimental','Cell 2 right, simulated','Cell 2 right, experimental'][datum.value-1]"}},
    "strokeDash":{"field":"s","type":"nominal","scale":{"domain":[1,2,3,4,5,6,7,8],"range":[[4,3],[1,0],[4,3],[1,0],[4,3],[1,0],[4,3],[1,0]]},"legend":{"labelExpr":"['Cell 1 left, simulated','Cell 1 left, experimental','Cell 1 right, simulated','Cell 1 right, experimental','Cell 2 left, simulated','Cell 2 left, experimental','Cell 2 right, simulated','Cell 2 right, experimental'][datum.value-1]"}}
   }},
  {"mark":{"type":"point","opacity":0},
   "encoding":{
    "x":{"field":"t","type":"quantitative","scale":{"domain":[0,80],"nice":false,"zero":false},"axis":{"orient":"top","values":[0,10,20,30,40,50,60,70,80],"labels":false,"title":null}},
    "y":{"field":"T","type":"quantitative","scale":{"domain":[0,850],"nice":false},"axis":{"orient":"right","values":[0,100,200,300,400,500,600,700,800],"labels":false,"title":null}}
   }}
 ],
 "resolve":{"axis":{"x":"independent","y":"independent"}}
}
]
}
